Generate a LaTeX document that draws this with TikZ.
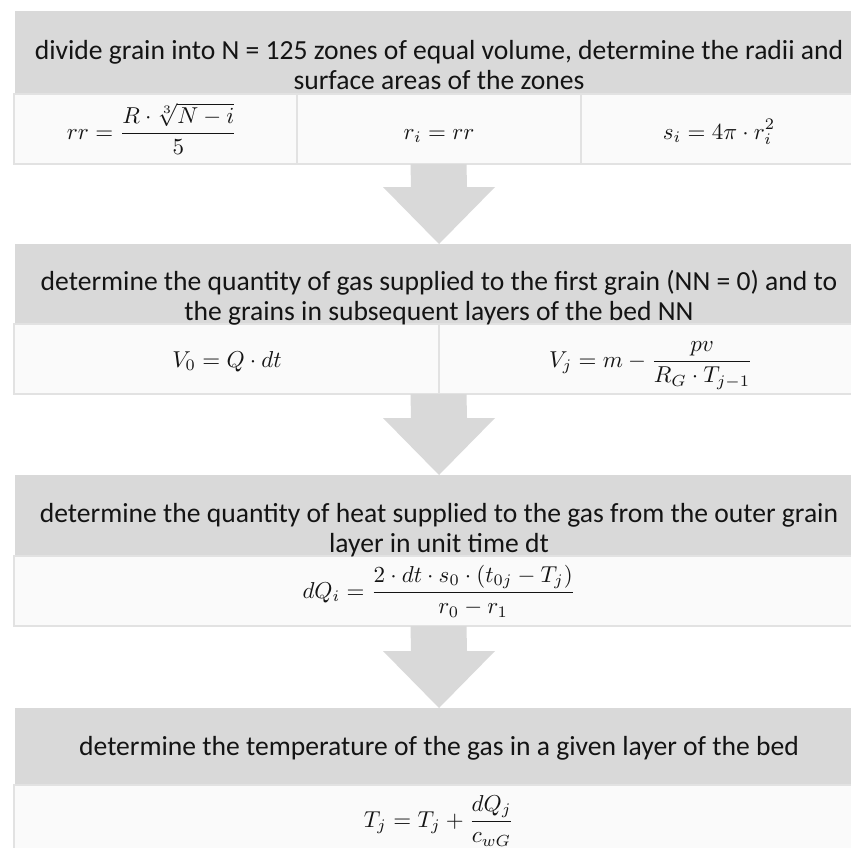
\documentclass[tikz,border=0pt]{standalone}
\usepackage{graphicx}
\usepackage{fontspec}
\setmainfont{Carlito}
\usetikzlibrary{calc}
\definecolor{hdrgray}{HTML}{D9D9D9}
\definecolor{rowfill}{HTML}{FAFAFA}
\definecolor{rowline}{HTML}{E2E2E2}
\definecolor{txt}{HTML}{141414}
\tikzset{
  hdr/.style={fill=hdrgray, draw=none, rectangle, inner sep=0pt, outer sep=0pt, minimum width=848pt, anchor=north west},
  frow/.style={fill=rowfill, draw=rowline, line width=1.5pt, rectangle, inner sep=0pt, outer sep=0pt, minimum width=849pt, minimum height=70pt, anchor=north west},
  divline/.style={draw=rowline, line width=1.5pt},
  htext/.style={font=\fontsize{27.6}{30}\selectfont, inner sep=0pt, text=txt, anchor=base},
  mtext/.style={inner sep=0pt, text=txt, anchor=base},
  arrowfill/.style={fill=hdrgray, draw=none}
}
\newcommand\mymath[1]{\scalebox{2.3}{$\displaystyle #1$}}
\newcommand\myblockarrow[2]{%
  \fill[arrowfill] ($(#1.south)+(-28,0)$) -- ($(#2.north)+(-28,-57)$) -- ($(#2.north)+(-56,-57)$) -- (#2.north)
    -- ($(#2.north)+(56,-57)$) -- ($(#2.north)+(28,-57)$) -- ($(#1.south)+(28,0)$) -- cycle;}
\begin{document}
\begin{tikzpicture}[x=1pt,y=-1pt]
\useasboundingbox (0,0) rectangle (851,847);
\clip (0,0) rectangle (851,847);
\fill[white] (0,0) rectangle (851,847);
% box 1
\node[hdr, minimum height=83pt] (h1) at (15,11) {};
\node[frow] (f1) at (14,94) {};
\draw[divline] (297,94) -- (297,164);
\draw[divline] (581,94) -- (581,164);
\node[htext] (t1a) at (439,59) {divide grain into N = 125 zones of equal volume, determine the radii and};
\node[htext] (t1b) at (439,89) {surface areas of the zones};
\node[mtext] (m1a) at (152,139) {\mymath{rr=\frac{R\cdot\sqrt[3]{N-i}}{5}}};
\node[mtext] (m1b) at (439,139) {\mymath{r_i=rr}};
\node[mtext] (m1c) at (719,139) {\mymath{s_i=4\pi\cdot r_i^2}};
% box 2
\node[hdr, minimum height=80pt] (h2) at (15,244) {};
\node[frow] (f2) at (14,324) {};
\draw[divline] (439,324) -- (439,394);
\node[htext] (t2a) at (439,290) {determine the quantity of gas supplied to the first grain (NN = 0) and to};
\node[htext] (t2b) at (439,320) {the grains in subsequent layers of the bed NN};
\node[mtext] (m2a) at (227,367) {\mymath{V_0=Q\cdot dt}};
\node[mtext] (m2b) at (651,367) {\mymath{V_j=m-\frac{pv}{R_G\cdot T_{j-1}}}};
% box 3
\node[hdr, minimum height=81pt] (h3) at (15,475) {};
\node[frow] (f3) at (14,556) {};
\node[htext] (t3a) at (439,522) {determine the quantity of heat supplied to the gas from the outer grain};
\node[htext] (t3b) at (439,552) {layer in unit time dt};
\node[mtext] (m3) at (439,598) {\mymath{dQ_i=\frac{2\cdot dt\cdot s_0\cdot\left(t_{0j}-T_j\right)}{r_0-r_1}}};
% box 4
\node[hdr, minimum height=77pt] (h4) at (15,708) {};
\node[frow] (f4) at (14,785) {};
\node[htext] (t4) at (439,755) {determine the temperature of the gas in a given layer of the bed};
\node[mtext] (m4) at (439,827) {\mymath{T_j=T_j+\frac{dQ_j}{c_{wG}}}};
% arrows
\myblockarrow{f1}{h2}
\myblockarrow{f2}{h3}
\myblockarrow{f3}{h4}
\end{tikzpicture}
\end{document}
